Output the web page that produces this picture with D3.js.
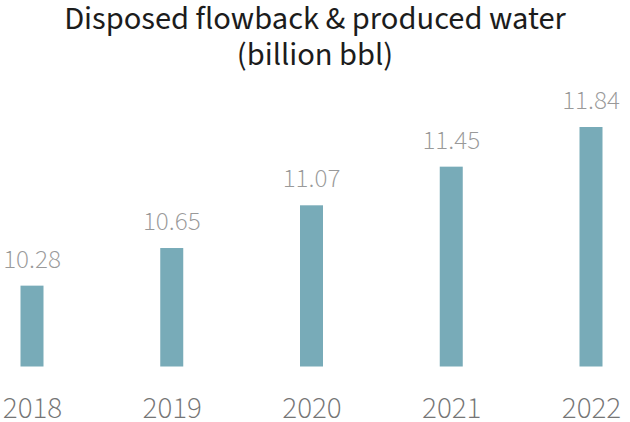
<!DOCTYPE html>
<html>
<head>
<meta charset="utf-8">
<script src="https://cdn.jsdelivr.net/npm/d3@7"></script>
<style>
  html, body { margin: 0; padding: 0; background: #ffffff; }
  svg { display: block; }
</style>
</head>
<body>
<div id="chart"></div>
<script>
// Disposed flowback & produced water, billion barrels per year
const years = ["2018", "2019", "2020", "2021", "2022"];
const volumes = [10.28, 10.65, 11.07, 11.45, 11.84];
const titleLines = ["Disposed flowback & produced water", "(billion bbl)"];

const width = 630, height = 422;
const fontFamily = "'Source Sans Pro', 'Source Sans 3', Lato, 'Noto Sans', sans-serif";

const svg = d3.select("#chart").append("svg")
  .attr("width", width)
  .attr("height", height);

// Bar centres across the width
const x = d3.scalePoint()
  .domain(years)
  .range([32, 591]);

// Truncated value axis (bars start well above zero)
const y = d3.scaleLinear()
  .domain([9.485, 11.84])
  .range([366.5, 127]);

const barWidth = 23;

// Title
svg.append("g")
  .selectAll("text")
  .data(titleLines)
  .join("text")
  .attr("x", width / 2)
  .attr("y", (d, i) => 28.5 + i * 36)
  .attr("text-anchor", "middle")
  .attr("font-family", fontFamily)
  .attr("font-size", 32.5)
  .attr("fill", "#1c1c1c")
  .text(d => d);

const data = years.map((yr, i) => ({ year: yr, value: volumes[i] }));

// Bars
svg.append("g")
  .selectAll("rect")
  .data(data)
  .join("rect")
  .attr("x", d => x(d.year) - barWidth / 2)
  .attr("y", d => y(d.value))
  .attr("width", barWidth)
  .attr("height", d => y.range()[0] - y(d.value))
  .attr("fill", "#78abb8");

// Value labels above bars
svg.append("g")
  .selectAll("text")
  .data(data)
  .join("text")
  .attr("x", d => x(d.year))
  .attr("y", d => y(d.value) - 18)
  .attr("text-anchor", "middle")
  .attr("font-family", fontFamily)
  .attr("font-weight", 300)
  .attr("font-size", 27)
  .attr("fill", "#999999")
  .text(d => d3.format(".2f")(d.value));

// Category axis (labels only, no line or ticks)
const xAxis = svg.append("g")
  .attr("transform", "translate(0, 417.5)")
  .call(d3.axisBottom(x).tickSize(0).tickPadding(0));
xAxis.select(".domain").remove();
xAxis.selectAll("text")
  .attr("dy", 0)
  .attr("font-family", fontFamily)
  .attr("font-weight", 300)
  .attr("font-size", 31)
  .attr("fill", "#757575");
</script>
</body>
</html>
